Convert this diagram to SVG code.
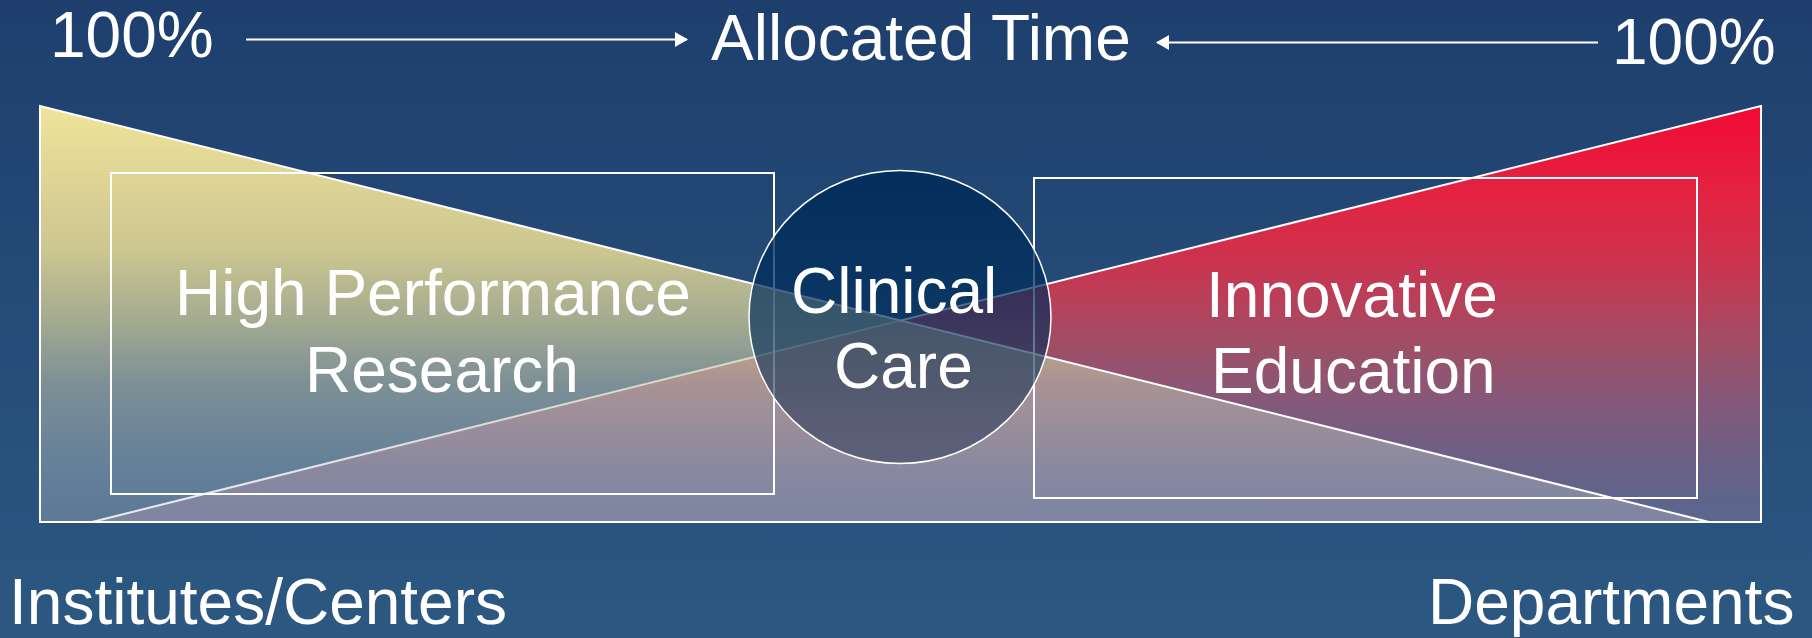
<svg xmlns="http://www.w3.org/2000/svg" width="1812" height="638" viewBox="0 0 1812 638">
  <defs>
    <linearGradient id="bg" x1="0" y1="0" x2="0" y2="1">
      <stop offset="0" stop-color="#1e3f6d"/>
      <stop offset="1" stop-color="#2c5882"/>
    </linearGradient>
    <!-- departments wedge: red at the tall end, fading to slate -->
    <linearGradient id="wedgeRed" x1="0" y1="0" x2="0" y2="1">
      <stop offset="0" stop-color="#f20a34"/>
      <stop offset="0.22" stop-color="#e22442"/>
      <stop offset="0.35" stop-color="#d0304c"/>
      <stop offset="0.47" stop-color="#b8405a"/>
      <stop offset="0.59" stop-color="#9c5068"/>
      <stop offset="0.71" stop-color="#85587a"/>
      <stop offset="0.83" stop-color="#6e5f84"/>
      <stop offset="0.95" stop-color="#5e648c"/>
      <stop offset="1" stop-color="#5a6690"/>
    </linearGradient>
    <!-- institutes wedge: translucent yellow fading to pale grey -->
    <linearGradient id="wedgeYellow" x1="0" y1="0" x2="0" y2="1">
      <stop offset="0" stop-color="#f0e49a" stop-opacity="1"/>
      <stop offset="0.35" stop-color="#e3d794" stop-opacity="0.88"/>
      <stop offset="0.51" stop-color="#d6d199" stop-opacity="0.72"/>
      <stop offset="0.67" stop-color="#bcbfaa" stop-opacity="0.58"/>
      <stop offset="0.87" stop-color="#b7bfc2" stop-opacity="0.42"/>
      <stop offset="1" stop-color="#c4c4c8" stop-opacity="0.33"/>
    </linearGradient>
    <linearGradient id="care" x1="0" y1="0" x2="0" y2="1">
      <stop offset="0" stop-color="#002c5a" stop-opacity="0.9"/>
      <stop offset="0.5" stop-color="#002c5a" stop-opacity="0.67"/>
      <stop offset="1" stop-color="#22304c" stop-opacity="0.45"/>
    </linearGradient>
    <marker id="head" markerUnits="userSpaceOnUse" markerWidth="14" markerHeight="16" refX="12" refY="7.5" orient="auto">
      <path d="M0,0 L13,7.5 L0,15 Z" fill="#ffffff"/>
    </marker>
    <style>
      .lbl { font-family: "Liberation Sans", Arial, sans-serif; font-size: 64px; fill: #ffffff; }
      .edge { stroke: #ffffff; stroke-width: 2; }
      .box { fill: none; stroke: #ffffff; stroke-width: 2; }
      .arrow { stroke: #ffffff; stroke-width: 2; fill: none; marker-end: url(#head); }
    </style>
  </defs>

  <rect x="0" y="0" width="1812" height="638" fill="url(#bg)"/>

  <!-- the two opposing wedges -->
  <g id="departments-wedge">
    <polygon class="edge" points="1761,106 1761,522 92,522" fill="url(#wedgeRed)"/>
  </g>
  <g id="institutes-wedge">
    <polygon class="edge" points="40,106 40,522 1709,522" fill="url(#wedgeYellow)"/>
  </g>

  <g id="research">
    <rect class="box" x="111" y="173" width="663" height="321"/>
    <text class="lbl" x="175" y="315">High Performance</text>
    <text class="lbl" x="305" y="392">Research</text>
  </g>

  <g id="education">
    <rect class="box" x="1034" y="178" width="663" height="320"/>
    <text class="lbl" x="1206" y="317">Innovative</text>
    <text class="lbl" x="1211" y="393">Education</text>
  </g>

  <g id="clinical-care">
    <ellipse cx="900" cy="317" rx="151" ry="146.5" fill="url(#care)" stroke="#ffffff" stroke-width="1.5"/>
    <text class="lbl" x="791" y="313">Clinical</text>
    <text class="lbl" x="834" y="388">Care</text>
  </g>

  <g id="scale-labels">
    <text class="lbl" x="50" y="57">100%</text>
    <text class="lbl" x="711" y="60">Allocated Time</text>
    <text class="lbl" x="1612" y="64">100%</text>
    <text class="lbl" x="9" y="624">Institutes/Centers</text>
    <text class="lbl" x="1428" y="624">Departments</text>
  </g>

  <g id="connectors">
    <line class="arrow" x1="246" y1="39.5" x2="687" y2="39.5"/>
    <line class="arrow" x1="1598" y1="42.5" x2="1157" y2="42.5"/>
  </g>
</svg>
